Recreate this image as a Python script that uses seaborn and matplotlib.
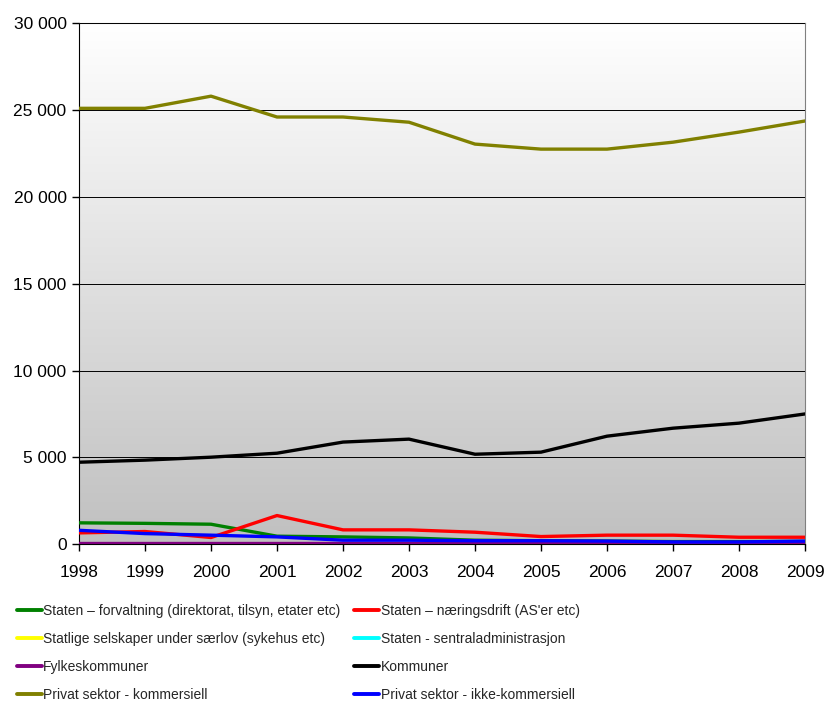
import numpy as np
import pandas as pd
import seaborn as sns
import matplotlib.pyplot as plt
from matplotlib.colors import LinearSegmentedColormap
from matplotlib.lines import Line2D

years = list(range(1998, 2010))
forvaltning = [1230, 1200, 1150, 460, 420, 360, 230, 200, 180, 150, 150, 160]
naeringsdrift = [650, 730, 385, 1650, 825, 825, 690, 440, 520, 520, 400, 400]
saerlov = [0] * 12
sentraladm = [0] * 12
fylkeskommuner = [40] * 12
kommuner = [4720, 4840, 5010, 5240, 5880, 6050, 5180, 5300, 6220, 6680, 6970, 7500]
privat_kom = [25100, 25100, 25800, 24600, 24600, 24300, 23040, 22750, 22750, 23150, 23730, 24370]
privat_ikke = [800, 610, 520, 420, 230, 230, 200, 200, 180, 130, 130, 180]

names = ["Staten – forvaltning (direktorat, tilsyn, etater etc)",
         "Staten – næringsdrift (AS'er etc)",
         "Statlige selskaper under særlov (sykehus etc)",
         "Staten - sentraladministrasjon",
         "Fylkeskommuner",
         "Kommuner",
         "Privat sektor - kommersiell",
         "Privat sektor - ikke-kommersiell"]
series = [forvaltning, naeringsdrift, saerlov, sentraladm, fylkeskommuner,
          kommuner, privat_kom, privat_ikke]
colors = ["#008000", "#ff0000", "#ffff00", "#00ffff", "#800080",
          "#000000", "#808000", "#0000ff"]

df = pd.DataFrame({
    "År": years * len(names),
    "Verdi": [v for s in series for v in s],
    "Serie": [n for n in names for _ in years],
})

sns.set_style("white")
plt.rcParams['font.family'] = ['Liberation Sans', 'DejaVu Sans']

fig = plt.figure(figsize=(8.24, 7.04), dpi=100)
ax = fig.add_axes([0.0959, 0.227, 0.881, 0.740])

# bakgrunn med gradient
grad = np.linspace(1, 0, 256).reshape(-1, 1)
cmap = LinearSegmentedColormap.from_list("bg", ["#c0c0c0", "#ffffff"])
ax.imshow(grad, extent=[0, 1, 0, 1], transform=ax.transAxes, aspect="auto",
          cmap=cmap, vmin=0, vmax=1, zorder=0)

sns.lineplot(data=df, x="År", y="Verdi", hue="Serie", hue_order=names,
             palette=colors, linewidth=2.4, ax=ax, legend=False, zorder=3)

ax.set_xlim(1998, 2009)
ax.set_ylim(0, 30000)
ax.set_xticks(years)
ax.set_yticks(range(0, 30001, 5000))
ax.set_yticklabels([f"{v:,}".replace(",", " ") for v in range(0, 30001, 5000)])
ax.yaxis.grid(True, color="#000000", linewidth=0.7)
ax.set_axisbelow(False)
for ln in ax.get_ygridlines():
    ln.set_zorder(1)
ax.set_xlabel("")
ax.set_ylabel("")
ax.tick_params(axis="both", direction="out", length=5, width=1, labelsize=12.5,
               left=True, bottom=True, colors="#000000")
ax.tick_params(axis="x", pad=10)
ax.tick_params(axis="y", pad=4)
ax.spines["left"].set_color("#000000")
ax.spines["bottom"].set_color("#000000")
ax.spines["top"].set_color("#808080")
ax.spines["right"].set_color("#808080")

handles = [Line2D([0], [0], color=c, linewidth=2.8) for c in colors]
order = [0, 2, 4, 6, 1, 3, 5, 7]
fig.legend([handles[i] for i in order], [names[i] for i in order],
           loc="upper left", bbox_to_anchor=(0.005, 0.160), ncol=2,
           frameon=False, handlelength=1.8, handletextpad=0.1,
           columnspacing=1.0, labelspacing=1.02, fontsize=10)

plt.savefig("out.png", dpi=100)
